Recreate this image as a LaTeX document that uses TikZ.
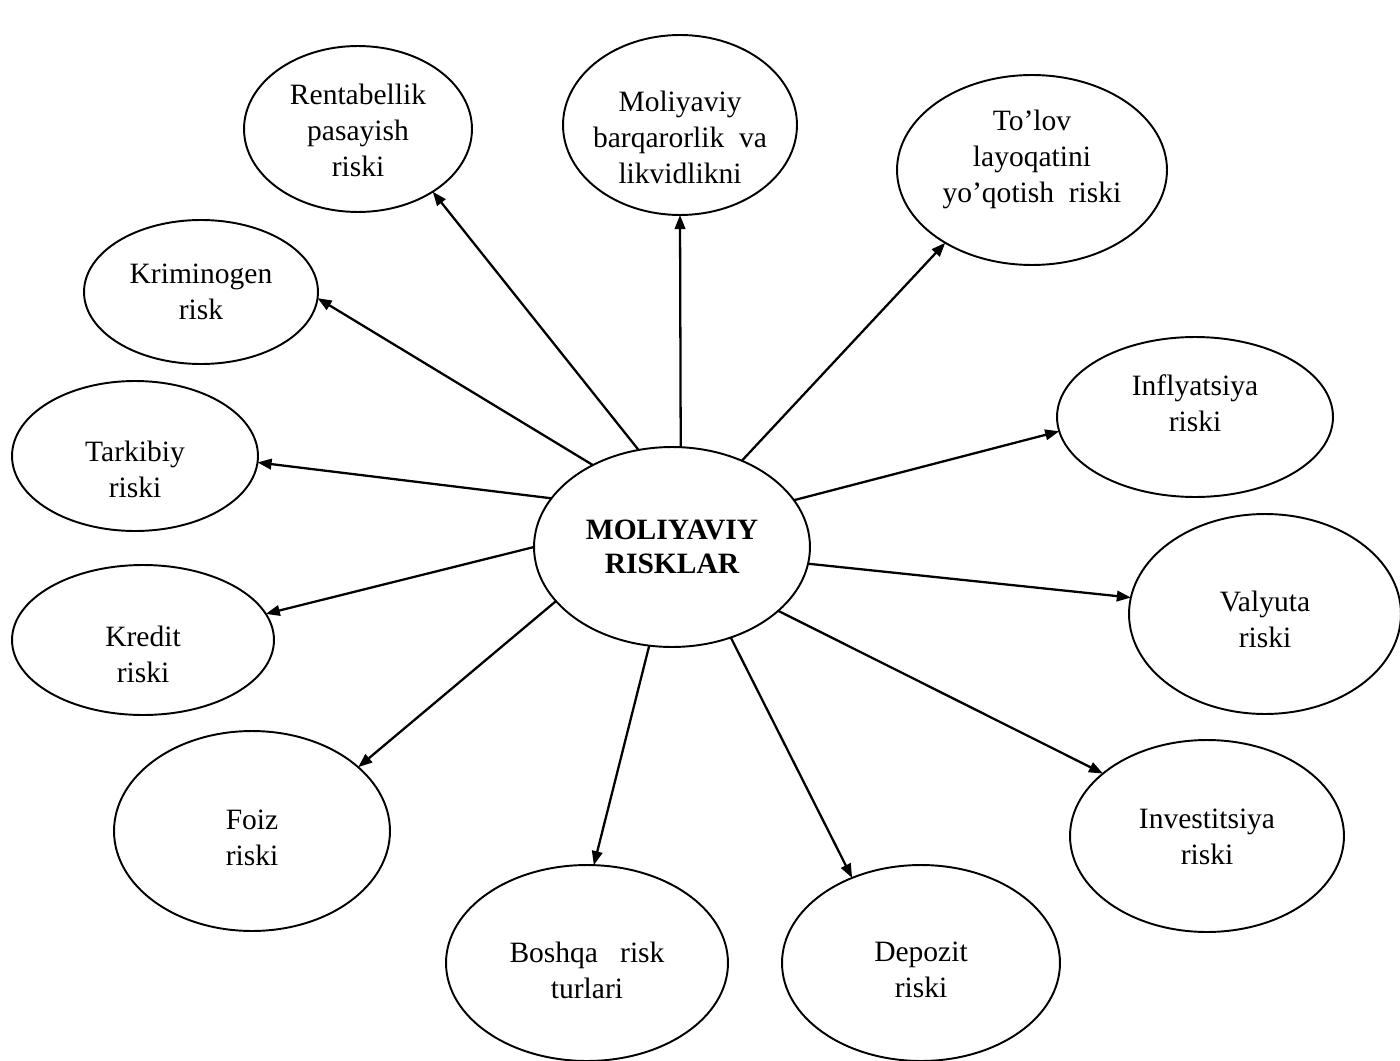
\documentclass[tikz,border=0pt]{standalone}
\usepackage{fontspec}
\setmainfont{Liberation Serif}
\usetikzlibrary{shapes.geometric,arrows.meta}
\begin{document}
\begin{tikzpicture}[x=0.02cm,y=-0.02cm,
  oval/.style={draw, ellipse, line width=1.1pt, inner sep=0pt, outer sep=0pt},
  lbl/.style={align=center, inner sep=0pt, font={\fontsize{16.8pt}{20.5pt}\selectfont}},
  arr/.style={-{Triangle[length=8pt,width=6pt]}, line width=1.3pt}]
\useasboundingbox (0,0) rectangle (1400,1061);
% central node
\node[oval, minimum width=5.52cm, minimum height=4cm, align=center,
  font={\bfseries\fontsize{16.8pt}{19pt}\selectfont}] (cen) at (672,547) {MOLIYAVIY\\RISKLAR};
% outer ellipses
\node[oval, minimum width=4.56cm, minimum height=3.32cm] (rent) at (358,129) {};
\node[oval, minimum width=4.68cm, minimum height=3.6cm]  (mol)  at (680,125) {};
\node[oval, minimum width=5.4cm,  minimum height=3.8cm]  (tol)  at (1032,170) {};
\node[oval, minimum width=4.68cm, minimum height=2.88cm] (krim) at (201,292) {};
\node[oval, minimum width=5.52cm, minimum height=3.2cm]  (infl) at (1195,417) {};
\node[oval, minimum width=4.92cm, minimum height=3.0cm]  (tark) at (135,456) {};
\node[oval, minimum width=5.44cm, minimum height=4.0cm]  (val)  at (1265,614) {};
\node[oval, minimum width=5.24cm, minimum height=3.0cm]  (kred) at (143,640) {};
\node[oval, minimum width=5.52cm, minimum height=4.0cm]  (foiz) at (252,831) {};
\node[oval, minimum width=5.48cm, minimum height=3.84cm] (inv)  at (1207,836) {};
\node[oval, minimum width=5.64cm, minimum height=3.92cm] (bosh) at (587,963) {};
\node[oval, minimum width=5.56cm, minimum height=3.92cm] (dep)  at (921,963) {};
% texts
\node[lbl] (rentT) at (358,130) {Rentabellik\\pasayish\\riski};
\node[lbl] (molT)  at (680,137) {Moliyaviy\\barqarorlik\ \ va\\likvidlikni};
\node[lbl] (tolT)  at (1032,159) {To’lov\\layoqatini\\yo’qotish\ \ riski};
\node[lbl] (krimT) at (201,292) {Kriminogen\\risk};
\node[lbl] (inflT) at (1195,403) {Inflyatsiya\\riski};
\node[lbl] (tarkT) at (135,469) {Tarkibiy\\riski};
\node[lbl] (valT)  at (1265,619) {Valyuta\\riski};
\node[lbl] (kredT) at (143,654) {Kredit\\riski};
\node[lbl] (foizT) at (252,838) {Foiz\\riski};
\node[lbl] (invT)  at (1207,837) {Investitsiya\\riski};
\node[lbl] (boshT) at (587,970) {Boshqa\ \ \ risk\\turlari};
\node[lbl] (depT)  at (921,970) {Depozit\\riski};
% connectors
\draw[arr] (cen.109.5) -- (rent.-40);
\draw[arr] (cen.134)   -- (krim.-3);
\draw[arr] (cen.85.4)  -- (mol.270);
\draw[arr] (cen.51.6)  -- (tol.220);
\draw[arr] (cen.21.9)  -- (infl.186);
\draw[arr] (cen.-7.4)  -- (val.173);
\draw[arr] (cen.-31.4) -- (inv.149);
\draw[arr] (cen.-57)   -- (dep.129);
\draw[arr] (cen.257.7) -- (bosh.86);
\draw[arr] (cen.205)   -- (foiz.31.7);
\draw[arr] (cen.180)   -- (kred.12.7);
\draw[arr] (cen.158)   -- (tark.-3.7);
\end{tikzpicture}
\end{document}
